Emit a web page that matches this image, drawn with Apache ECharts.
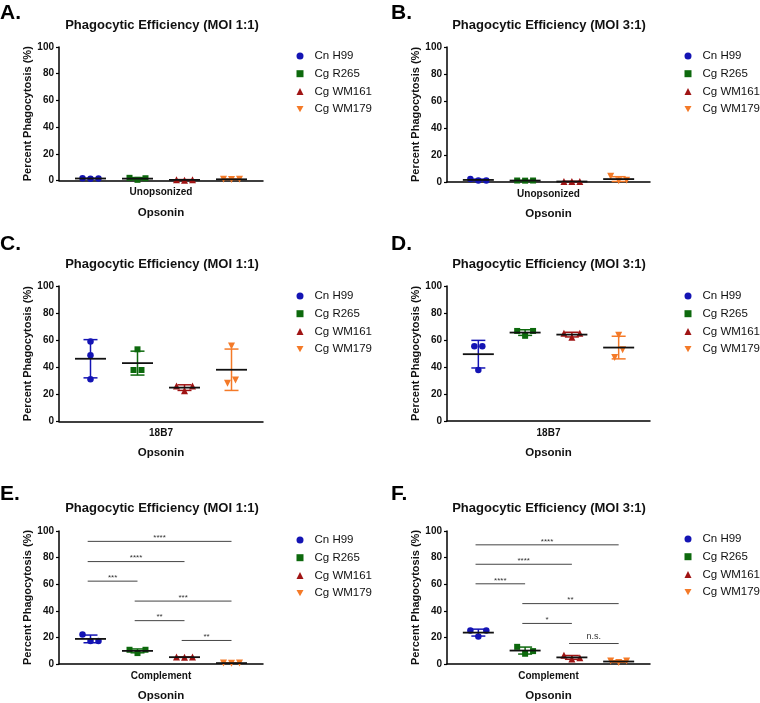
<!DOCTYPE html>
<html><head><meta charset="utf-8">
<script src="https://cdn.jsdelivr.net/npm/echarts@6/dist/echarts.min.js"></script>
<style>html,body{margin:0;padding:0;background:#fff}#c{width:760px;height:703px}</style>
</head><body><div id="c"></div>
<script>
// ---------------- DATA ----------------
const strains = ['Cn H99', 'Cg R265', 'Cg WM161', 'Cg WM179'];
const yTicks = [0, 20, 40, 60, 80, 100];
const panelLetters = ['A.', 'B.', 'C.', 'D.', 'E.', 'F.'];
const panelTitles = [
  'Phagocytic Efficiency (MOI 1:1)', 'Phagocytic Efficiency (MOI 3:1)',
  'Phagocytic Efficiency (MOI 1:1)', 'Phagocytic Efficiency (MOI 3:1)',
  'Phagocytic Efficiency (MOI 1:1)', 'Phagocytic Efficiency (MOI 3:1)'
];
const opsonins = ['Unopsonized', 'Unopsonized', '18B7', '18B7', 'Complement', 'Complement'];
const xAxisTitle = 'Opsonin';
const yAxisTitle = 'Percent Phagocytosis (%)';

// replicate values (%), one row per strain, replicates in left-to-right order
const valuesA = [[1.6, 1.4, 1.5], [2.0, 0.5, 1.7], [0.6, 0.2, 0.6], [1.0, 0.7, 1.0]];
const valuesB = [[2.2, 1.2, 1.2], [1.1, 1.0, 1.1], [0.4, 0.3, 0.4], [4.2, 1.0, 1.3]];
const valuesC = [[58.9, 48.8, 31.0], [37.9, 53.2, 37.9], [26.1, 22.5, 26.1], [28.1, 55.7, 30.5]];
const valuesD = [[55.4, 37.7, 55.4], [66.7, 63.1, 66.7], [65.0, 62.0, 65.0], [47.0, 63.5, 52.7]];
const valuesE = [[22.2, 17.2, 17.2], [10.7, 8.2, 10.7], [5.2, 5.0, 5.2], [0.7, 0.6, 0.7]];
const valuesF = [[25.1, 20.6, 25.1], [12.9, 7.7, 9.7], [6.5, 3.7, 4.7], [2.2, 1.2, 2.2]];

// significance brackets: [from strain #, to strain #, height (%), label]
const bracketsE = [[1, 4, 92.2, '****'], [1, 3, 77.0, '****'], [1, 2, 62.3, '***'],
                   [2, 4, 47.3, '***'], [2, 3, 32.6, '**'], [3, 4, 17.7, '**']];
const bracketsF = [[1, 4, 89.6, '****'], [1, 3, 75.0, '****'], [1, 2, 60.3, '****'],
                   [2, 4, 45.4, '**'], [2, 3, 30.5, '*'], [3, 4, 15.4, 'n.s.']];

const panelValues = [valuesA, valuesB, valuesC, valuesD, valuesE, valuesF];
const panelBrackets = [[], [], [], [], bracketsE, bracketsF];

// ---------------- LAYOUT / STYLE ----------------
const FONT = '"Liberation Sans", Arial, Helvetica, sans-serif';
const colors = ['#1414b4', '#0d690d', '#a01414', '#f47a28'];
const symbols = ['circle', 'rect', 'triangle', 'triangle'];
const symbolRot = [0, 0, 0, 180];
const symbolSizes = [6.5, 6, 7, 7];
const legendIcons = ['circle', 'rect', 'triangle', 'path://M0,0L10,0L5,9Z'];
const grids = [[59, 47, 204, 133.5], [447, 47, 203, 135], [59, 286, 204, 135.3],
               [447, 286, 203, 135], [59, 531, 204, 133.5], [447, 531, 203, 134]];
const legendPos = [[296.5, 49], [684.5, 49], [296.5, 289], [684.5, 289], [296.5, 533], [684.5, 532]];
const titlePos = [[162, 25], [549, 25], [162, 264], [549, 264], [162, 508], [549, 508]];
const letterPos = [[0, 13], [391, 13], [0, 244], [391, 244], [0, 494], [391, 494]];
const X_MIN = 0.33, X_MAX = 4.67, SLOT = 0.17, OVERLAP = 6;

function mean(a) { return a.reduce((s, v) => s + v, 0) / a.length; }
function sd(a) { const m = mean(a); return Math.sqrt(a.reduce((s, v) => s + (v - m) * (v - m), 0) / (a.length - 1)); }
// spread overlapping replicates horizontally (like a scatter dot plot)
function slots(vals) {
  const par = vals.map((_, i) => i);
  const find = i => par[i] === i ? i : (par[i] = find(par[i]));
  for (let i = 0; i < vals.length; i++)
    for (let j = i + 1; j < vals.length; j++)
      if (Math.abs(vals[i] - vals[j]) < OVERLAP) par[find(i)] = find(j);
  const groups = {};
  vals.forEach((_, i) => { const r = find(i); (groups[r] = groups[r] || []).push(i); });
  const out = new Array(vals.length).fill(0);
  Object.values(groups).forEach(g => g.forEach((idx, k) => { out[idx] = (k - (g.length - 1) / 2); }));
  return out;
}

const option = {
  animation: false,
  backgroundColor: '#fff',
  textStyle: { fontFamily: FONT },
  grid: [], xAxis: [], yAxis: [], series: [], legend: [], graphic: []
};

for (let p = 0; p < 6; p++) {
  const [l, t, w, h] = grids[p];
  option.grid.push({ left: l, top: t, width: w, height: h, containLabel: false });
  option.xAxis.push({ type: 'value', gridIndex: p, min: X_MIN, max: X_MAX, show: false, position: 'bottom' });
  option.xAxis.push({
    type: 'category', gridIndex: p, data: [opsonins[p]], position: 'bottom', boundaryGap: true,
    axisLine: { lineStyle: { color: '#000', width: 1.5 } },
    axisTick: { alignWithLabel: true, length: 4, lineStyle: { color: '#000', width: 1.5 } },
    axisLabel: { margin: 7, fontSize: 10, fontWeight: 'bold', color: '#111', fontFamily: FONT },
    name: xAxisTitle, nameLocation: 'middle', nameGap: 26,
    nameTextStyle: { fontSize: 11.5, fontWeight: 'bold', color: '#111', fontFamily: FONT }
  });
  option.yAxis.push({
    type: 'value', gridIndex: p, min: yTicks[0], max: yTicks[yTicks.length - 1], interval: 20,
    axisLine: { show: true, lineStyle: { color: '#000', width: 1.5 } },
    axisTick: { show: true, length: 3, lineStyle: { color: '#000', width: 1.2 } },
    splitLine: { show: false },
    axisLabel: { margin: 5, fontSize: 10, fontWeight: 'bold', color: '#111', fontFamily: FONT },
    name: yAxisTitle, nameLocation: 'middle', nameGap: 25,
    nameTextStyle: { fontSize: 11, fontWeight: 'bold', color: '#111', fontFamily: FONT }
  });
  const vals = panelValues[p];
  vals.forEach((reps, s) => {
    const sl = slots(reps);
    option.series.push({
      type: 'scatter', name: strains[s], xAxisIndex: 2 * p, yAxisIndex: p,
      symbol: symbols[s], symbolRotate: symbolRot[s], symbolSize: symbolSizes[s],
      itemStyle: { color: colors[s], opacity: 1 }, z: 3,
      data: reps.map((v, i) => [s + 1 + sl[i] * SLOT, v])
    });
  });
  // mean + SD
  option.series.push({
    type: 'custom', xAxisIndex: 2 * p, yAxisIndex: p, z: 5, silent: true,
    data: vals.map((reps, s) => [s + 1, mean(reps), sd(reps), s]),
    renderItem: (params, api) => {
      const g = api.value(0), m = api.value(1), d = api.value(2), c = colors[api.value(3)];
      const pm = api.coord([g, m]), pt = api.coord([g, m + d]), pb = api.coord([g, Math.max(0, m - d)]);
      const st = { stroke: c, lineWidth: 1.5 };
      return {
        type: 'group', children: [
          { type: 'line', shape: { x1: pt[0], y1: pt[1], x2: pb[0], y2: pb[1] }, style: st },
          { type: 'line', shape: { x1: pt[0] - 7, y1: pt[1], x2: pt[0] + 7, y2: pt[1] }, style: st },
          { type: 'line', shape: { x1: pb[0] - 7, y1: pb[1], x2: pb[0] + 7, y2: pb[1] }, style: st },
          { type: 'line', shape: { x1: pm[0] - 15.5, y1: pm[1], x2: pm[0] + 15.5, y2: pm[1] }, style: { stroke: '#111', lineWidth: 1.8 } }
        ]
      };
    }
  });
  const br = panelBrackets[p];
  if (br.length) {
    option.series.push({
      type: 'custom', xAxisIndex: 2 * p, yAxisIndex: p, z: 4, silent: true,
      data: br.map(b => [b[0], b[1], b[2]]),
      renderItem: (params, api) => {
        const b = br[params.dataIndex];
        const a = api.coord([api.value(0) - 0.06, api.value(2)]);
        const e = api.coord([api.value(1), api.value(2)]);
        const isNs = b[3] === 'n.s.';
        return {
          type: 'group', children: [
            { type: 'line', shape: { x1: a[0], y1: a[1], x2: e[0], y2: e[1] }, style: { stroke: '#444', lineWidth: 1 } },
            { type: 'text', x: (a[0] + e[0]) / 2, y: a[1] - (isNs ? 7 : 3.5),
              style: { text: b[3], fontSize: isNs ? 9 : 8, fontFamily: FONT, fill: '#333', align: 'center', verticalAlign: 'middle' } }
          ]
        };
      }
    });
  }
  option.legend.push({
    data: strains.map((n, i) => ({ name: n, icon: legendIcons[i], itemStyle: { color: colors[i] } })),
    orient: 'vertical', left: legendPos[p][0], top: legendPos[p][1],
    padding: 0, itemWidth: 7, itemHeight: 7, itemGap: 3.7,
    textStyle: { fontSize: 11.5, color: '#111', lineHeight: 14, fontFamily: FONT, padding: [0, 0, 0, 6] },
    selectedMode: false
  });
  option.graphic.push({
    type: 'text', x: titlePos[p][0], y: titlePos[p][1],
    style: { text: panelTitles[p], fontSize: 13, fontWeight: 'bold', fill: '#111', fontFamily: FONT, align: 'center', verticalAlign: 'middle' }
  });
  option.graphic.push({
    type: 'text', x: letterPos[p][0], y: letterPos[p][1],
    style: { text: panelLetters[p], fontSize: 21, fontWeight: 'bold', fill: '#000', fontFamily: FONT, align: 'left', verticalAlign: 'middle' }
  });
}

const chart = echarts.init(document.getElementById('c'), null, { renderer: 'canvas' });
chart.setOption(option);
</script>
</body></html>
